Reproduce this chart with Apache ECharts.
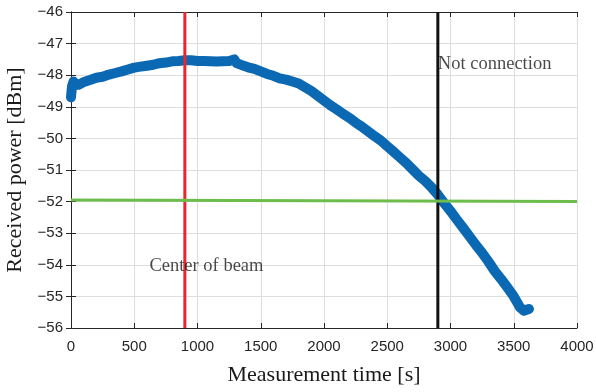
<!DOCTYPE html>
<html><head><meta charset="utf-8">
<script src="https://cdn.jsdelivr.net/npm/echarts@6/dist/echarts.min.js"></script>
<style>html,body{margin:0;padding:0;background:#fff}#c{width:596px;height:392px}</style>
</head><body><div id="c"></div>
<script>
const timeS = [0,8,20,40,60,100,150,200,250,300,350,400,450,500,550,600,650,700,750,800,850,900,950,1000,1050,1100,1150,1200,1250,1290,1310,1350,1400,1450,1500,1550,1600,1650,1700,1750,1800,1850,1900,1950,2000,2050,2100,2150,2200,2250,2300,2350,2400,2450,2500,2550,2600,2650,2700,2750,2800,2850,2900,2950,3000,3050,3100,3150,3200,3250,3300,3350,3400,3450,3500,3550,3580,3620];
const powerDbm = [-48.7,-48.35,-48.2,-48.3,-48.3,-48.22,-48.15,-48.08,-48.05,-47.98,-47.93,-47.88,-47.82,-47.76,-47.73,-47.7,-47.67,-47.62,-47.6,-47.56,-47.55,-47.53,-47.53,-47.55,-47.55,-47.56,-47.57,-47.56,-47.55,-47.5,-47.62,-47.68,-47.75,-47.8,-47.88,-47.96,-48.02,-48.1,-48.14,-48.2,-48.26,-48.38,-48.5,-48.65,-48.8,-48.95,-49.08,-49.22,-49.35,-49.5,-49.63,-49.78,-49.93,-50.07,-50.25,-50.42,-50.6,-50.78,-50.98,-51.18,-51.35,-51.55,-51.78,-52.05,-52.3,-52.57,-52.83,-53.1,-53.37,-53.62,-53.9,-54.2,-54.45,-54.72,-55.0,-55.35,-55.45,-55.4];
const beamCenterTime = 900;
const noConnectionTime = 2900;
const thresholdLine = [[0,-51.95],[4000,-52.0]];
const annotations = [
  {name:'Not connection', value:[2900,-47.65]},
  {name:'Center of beam', value:[620,-54.04]}
];

const chart = echarts.init(document.getElementById('c'));
const axisColor = '#262626';
const gridColor = '#dedede';
const lab = {fontFamily:'Liberation Sans, Arial, sans-serif', fontSize:15, color:axisColor};
const serif = 'Liberation Serif, Times New Roman, serif';
const curve = timeS.map((t,i)=>[t,powerDbm[i]]);
chart.setOption({
  animation:false,
  grid:{left:71,right:19,top:12,bottom:64,containLabel:false,outerBoundsMode:'none'},
  xAxis:[{
    type:'value', min:0, max:4000, interval:500, position:'bottom',
    name:'Measurement time [s]', nameLocation:'middle', nameGap:36,
    nameTextStyle:{fontFamily:serif, fontSize:22, color:'#1a1a1a'},
    axisLine:{show:true, lineStyle:{color:axisColor, width:1}},
    axisTick:{show:true, inside:true, length:5, lineStyle:{color:axisColor}},
    axisLabel:Object.assign({margin:11, formatter:v=>String(v)}, lab),
    splitLine:{show:true, lineStyle:{color:gridColor, width:1}}
  },{
    type:'value', min:0, max:4000, interval:500, position:'top',
    axisLine:{show:true, lineStyle:{color:axisColor, width:1}},
    axisTick:{show:true, inside:true, length:5, lineStyle:{color:axisColor}},
    axisLabel:{show:false}, splitLine:{show:false}
  }],
  yAxis:[{
    type:'value', min:-56, max:-46, interval:1, position:'left',
    name:'Received power [dBm]', nameLocation:'middle', nameGap:34, nameRotate:90,
    nameTextStyle:{fontFamily:serif, fontSize:22, color:'#1a1a1a'},
    axisLine:{show:true, lineStyle:{color:axisColor, width:1}},
    axisTick:{show:true, inside:true, length:5, lineStyle:{color:axisColor}},
    axisLabel:Object.assign({margin:8, formatter:v=>String(v).replace('-','\u2212')}, lab),
    splitLine:{show:true, lineStyle:{color:gridColor, width:1}}
  },{
    type:'value', min:-56, max:-46, interval:1, position:'right',
    axisLine:{show:true, lineStyle:{color:axisColor, width:1}},
    axisTick:{show:true, inside:true, length:5, lineStyle:{color:axisColor}},
    axisLabel:{show:false}, splitLine:{show:false}
  }],
  series:[
    {type:'line', data:curve, showSymbol:false, symbol:'none',
     lineStyle:{color:'#0b68b3', width:10, join:'round', cap:'round'}, z:3},
    {type:'line', data:[[beamCenterTime,-56],[beamCenterTime,-46]], symbol:'none',
     lineStyle:{color:'#e8262b', width:3}, z:4},
    {type:'line', data:[[noConnectionTime,-56],[noConnectionTime,-46]], symbol:'none',
     lineStyle:{color:'#111111', width:3}, z:4},
    {type:'line', data:thresholdLine, symbol:'none',
     lineStyle:{color:'#6cbd4b', width:3}, z:5},
    {type:'scatter', data:annotations, symbolSize:0, z:6,
     label:{show:true, position:'right', distance:0, formatter:p=>p.name,
       fontFamily:serif, fontSize:18.5, color:'#1a1a1a'}}
  ]
});
</script></body></html>
